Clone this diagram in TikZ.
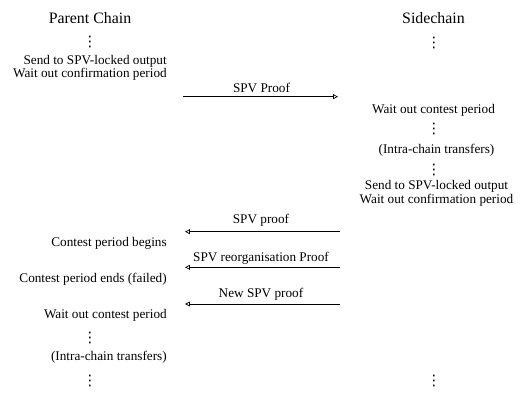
\documentclass[tikz,border=0pt]{standalone}
\usepackage{fontspec}
\setmainfont{Liberation Serif}
\newfontfamily\dotsfont{DejaVu Sans}
\usetikzlibrary{arrows.meta}
\tikzset{
  txt/.style={inner sep=0pt, font=\fontsize{10}{12}\selectfont},
  lcol/.style={txt, anchor=base east},
  rcol/.style={txt, anchor=base},
  title/.style={inner sep=0pt, anchor=base, font=\fontsize{12}{14}\selectfont},
  dotsn/.style={inner sep=0pt, anchor=center, font=\dotsfont\fontsize{11}{11}\selectfont},
  msg/.style={line width=0.55pt, -{Triangle[open, length=3.6pt, width=3.6pt]}},
  msglabel/.style={txt, anchor=base},
}
\begin{document}
\begin{tikzpicture}[x=0.756pt, y=-0.756pt]
\useasboundingbox (0,0) rectangle (529,405);
% titles
\node[title] (tp) at (90,24) {Parent Chain};
\node[title] (ts) at (433.5,24) {Sidechain};
% left column
\node[dotsn] (ld1) at (90,42) {⋮};
\node[lcol] (l1) at (167,64.5) {Send to SPV-locked output};
\node[lcol] (l2) at (167,78) {Wait out confirmation period};
\node[lcol] (l3) at (167,246.7) {Contest period begins};
\node[lcol] (l4) at (167,282.3) {Contest period ends (failed)};
\node[lcol] (l5) at (167,319) {Wait out contest period};
\node[dotsn] (ld2) at (90,338) {⋮};
\node[lcol] (l6) at (167,360.5) {(Intra-chain transfers)};
\node[dotsn] (ld3) at (90,381) {⋮};
% right column
\node[dotsn] (rd1) at (434,43) {⋮};
\node[rcol] (r1) at (433.5,113.3) {Wait out contest period};
\node[dotsn] (rd2) at (434,129) {⋮};
\node[rcol] (r2) at (436.5,154) {(Intra-chain transfers)};
\node[dotsn] (rd3) at (434,170) {⋮};
\node[rcol] (r3) at (436.5,190) {Send to SPV-locked output};
\node[rcol] (r4) at (436.5,204) {Wait out confirmation period};
\node[dotsn] (rd4) at (434,381) {⋮};
% message endpoints
\coordinate (a1s) at (183,96.7);  \coordinate (a1e) at (338,96.7);
\coordinate (a2s) at (340,231.7); \coordinate (a2e) at (185,231.7);
\coordinate (a3s) at (340,267.3); \coordinate (a3e) at (185,267.3);
\coordinate (a4s) at (340,304);   \coordinate (a4e) at (185,304);
% messages
\draw[msg] (a1s) -- (a1e);
\draw[msg] (a2s) -- (a2e);
\draw[msg] (a3s) -- (a3e);
\draw[msg] (a4s) -- (a4e);
\node[msglabel] (m1) at (261.5,92.7) {SPV Proof};
\node[msglabel] (m2) at (261,223.5) {SPV proof};
\node[msglabel] (m3) at (261,261.7) {SPV reorganisation Proof};
\node[msglabel] (m4) at (261,297.7) {New SPV proof};
\end{tikzpicture}
\end{document}
